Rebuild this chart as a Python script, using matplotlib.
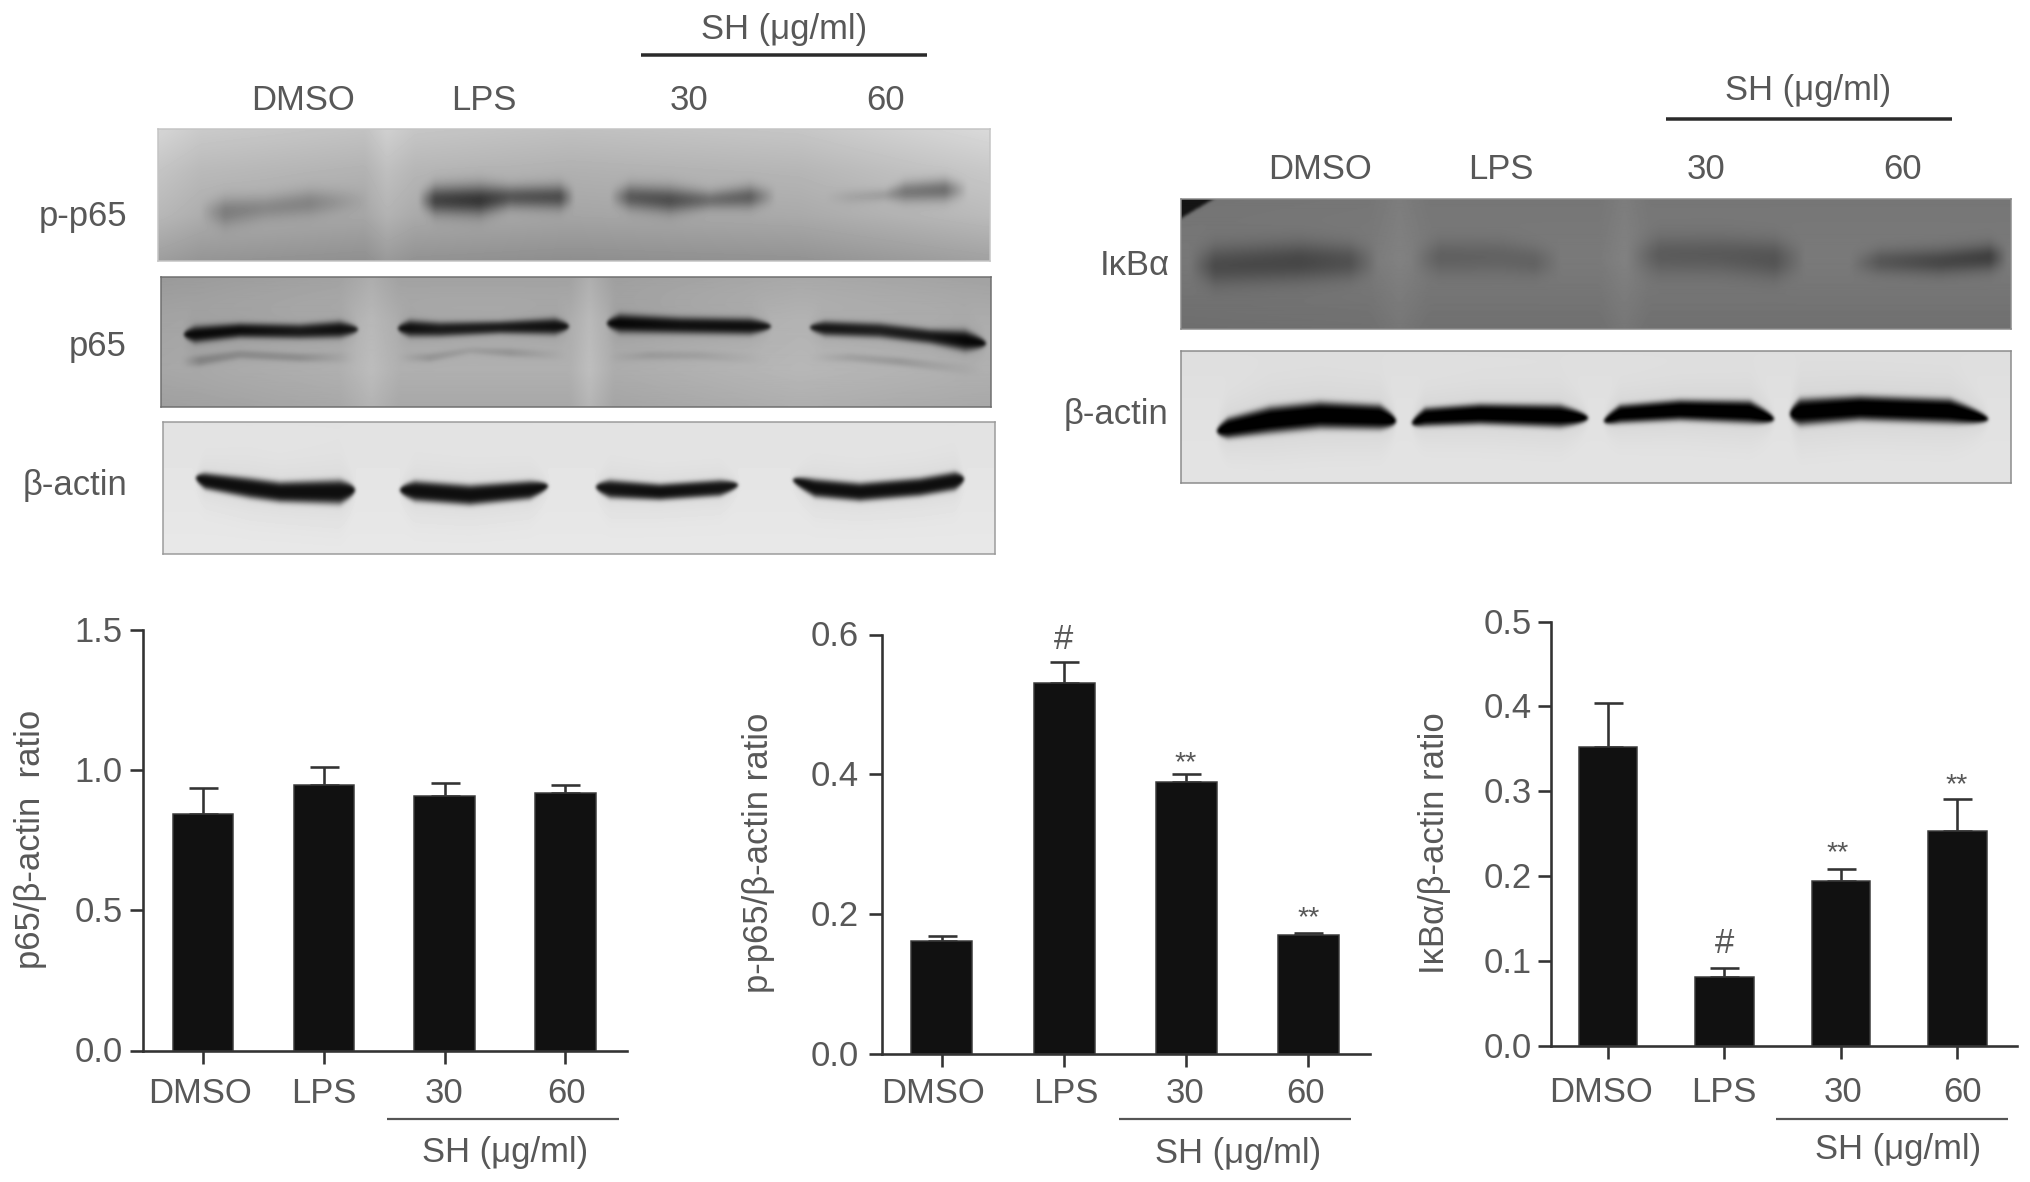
import numpy as np
import matplotlib
matplotlib.use("Agg")
import matplotlib.pyplot as plt

plt.rcParams['font.family'] = ['Liberation Sans', 'DejaVu Sans']
W, H = 2031, 1182
DPI = 100
PT = 72 / DPI
TXT = '#585858'
AX = '#333333'
BAR = '#111111'
FS = 34.7 * PT

# ---------- chart data ----------
categories = ['DMSO', 'LPS', '30', '60']
sh_label = 'SH (μg/ml)'

p65_values = [0.845, 0.946, 0.907, 0.918]
p65_errors = [0.091, 0.066, 0.048, 0.028]
p65_ticks = [0.0, 0.5, 1.0, 1.5]

pp65_values = [0.161, 0.531, 0.389, 0.170]
pp65_errors = [0.007, 0.030, 0.011, 0.003]
pp65_ticks = [0.0, 0.2, 0.4, 0.6]

ikb_values = [0.352, 0.081, 0.194, 0.253]
ikb_errors = [0.052, 0.010, 0.014, 0.038]
ikb_ticks = [0.0, 0.1, 0.2, 0.3, 0.4, 0.5]

# ---------- blot band descriptions: (x px, y px, half thickness, darkness) ----------
pp65_bands = [
    [(200,212,10,0),(225,212,14,48),(265,208,12,36),(310,203,13,40),(370,200,10,0)],
    [(418,200,9,0),(435,200,14,105),(480,200,15,118),(510,197,11,85),(560,197,12,92),(575,197,9,0)],
    [(610,197,8,0),(630,197,12,80),(670,200,13,92),(710,200,9,60),(750,197,11,78),(776,196,8,0)],
    [(825,197,6,0),(850,197,7,15),(885,195,6,25),(905,192,10,65),(945,190,11,78),(968,190,8,0)],
]
p65_bands = [
    [(184,335,6,0),(195,335,8,150),(240,331,7,150),(300,332,7,140),(340,330,8,150),(358,330,6,0)],
    [(398,329,6,0),(410,329,8,150),(440,330,7,140),(500,328,6,140),(555,327,8,150),(569,327,6,0)],
    [(607,324,6,0),(620,324,9,155),(680,326,8,150),(750,327,8,155),(771,327,6,0)],
    [(810,328,5,0),(825,329,7,150),(880,331,7,140),(930,337,7,145),(965,341,10,160),(986,344,7,0)],
    [(182,362,5,0),(200,361,5,35),(240,355,4,30),(300,358,4,30),(357,358,5,0)],
    [(398,358,4,0),(430,358,4,25),(470,351,3,15),(510,353,4,25),(568,356,4,0)],
    [(607,358,4,0),(650,356,4,18),(700,356,4,15),(770,360,5,0)],
    [(810,358,4,0),(850,358,4,18),(900,362,4,25),(985,372,5,0)],
]
actin1_bands = [
    [(196,478,5,0),(205,481,8,205),(250,488,10,205),(280,492,10,205),(340,492,12,205),(355,490,6,0)],
    [(400,490,6,0),(415,491,10,205),(470,495,10,205),(530,490,9,205),(548,486,5,0)],
    [(596,487,5,0),(610,489,9,200),(660,492,8,205),(720,488,8,200),(738,485,5,0)],
    [(793,480,4,0),(815,488,9,205),(860,492,9,205),(920,487,9,205),(955,481,9,205),(964,479,5,0)],
]
ikb_bands = [
    [(1190,265,14,0),(1215,266,19,44),(1300,262,19,50),(1350,262,17,40),(1378,262,14,0)],
    [(1412,260,12,0),(1440,258,17,25),(1500,258,17,23),(1535,262,15,23),(1562,262,12,0)],
    [(1628,258,14,0),(1660,256,19,30),(1720,256,19,32),(1775,260,19,38),(1806,260,14,0)],
    [(1850,264,10,0),(1880,262,12,34),(1940,262,13,50),(1990,258,13,58),(2008,258,10,0)],
]
actin2_bands = [
    [(1217,431,5,0),(1228,428,10,220),(1270,420,13,225),(1320,415,13,225),(1380,417,12,225),(1396,421,5,0)],
    [(1412,423,5,0),(1425,417,9,220),(1480,414,10,225),(1560,416,11,225),(1588,418,7,0)],
    [(1604,421,5,0),(1620,414,9,220),(1680,410,10,225),(1750,412,11,225),(1774,419,5,0)],
    [(1790,414,8,0),(1800,412,13,220),(1860,408,12,225),(1950,411,12,225),(1988,419,5,0)],
]

# background grey levels: (position px, level)
pp65_rows = [(129,198),(170,182),(215,170),(261,146)]
pp65_cols = [(158,1.08),(200,1.02),(365,0.98),(387,1.05),(415,1.0),(570,0.97),(800,1.0),(990,1.1)]
p65_rows = [(277,162),(320,172),(370,176),(407,168)]
p65_cols = [(161,0.95),(340,1.0),(372,1.07),(400,1.0),(570,1.0),(590,1.08),(615,0.98),(800,1.04),(991,1.0)]
actin1_rows = [(422,226),(554,232)]
actin1_cols = [(162,1.0),(995,1.0)]
ikb_rows = [(199,118),(260,122),(329,112)]
ikb_cols = [(1181,0.98),(1370,1.0),(1400,1.06),(1430,1.0),(1600,1.0),(1625,1.06),(1650,1.0),(2011,1.0)]
actin2_rows = [(351,222),(483,228)]
actin2_cols = [(1181,1.0),(2011,1.0)]


def fx(x): return x / W
def fy(y): return 1 - y / H


fig = plt.figure(figsize=(W / DPI, H / DPI), dpi=DPI, facecolor='white')


def T(x, y, s, ha='center', rot=0, size=FS, **kw):
    if rot:
        x += 2.5
    else:
        y += 2.5
    fig.text(fx(x), fy(y), s, ha=ha, va='center', rotation=rot, fontsize=size,
             color=kw.pop('color', TXT), rotation_mode='anchor' if rot == 0 else 'default', **kw)


def L(x0, x1, y, lw, color):
    fig.add_artist(plt.Line2D([fx(x0), fx(x1)], [fy(y), fy(y)], lw=lw * PT, color=color,
                              transform=fig.transFigure, solid_capstyle='butt'))


def soften(img, sigma):
    r = int(3 * sigma)
    k = np.exp(-0.5 * (np.arange(-r, r + 1) / sigma) ** 2)
    k /= k.sum()
    pad = np.pad(img, r, mode='edge')
    pad = np.apply_along_axis(lambda v: np.convolve(v, k, mode='same'), 0, pad)
    pad = np.apply_along_axis(lambda v: np.convolve(v, k, mode='same'), 1, pad)
    return pad[r:-r, r:-r]


def blot(box, rows, cols, bands, power, edge, corner=False):
    x0, x1, y0, y1 = box
    xs = np.arange(x0, x1) + 0.5
    ys = np.arange(y0, y1) + 0.5
    r = np.array(rows, float)
    c = np.array(cols, float)
    img = np.outer(np.interp(ys, r[:, 0], r[:, 1]), np.interp(xs, c[:, 0], c[:, 1]))
    for b in bands:
        a = np.array(b, float)
        yc = np.interp(xs, a[:, 0], a[:, 1])
        th = np.interp(xs, a[:, 0], a[:, 2])
        dk = np.interp(xs, a[:, 0], a[:, 3])
        if a[1, 3] > 100 and power > 2:
            # rounded band ends for the dense bands
            for i0, i1 in ((0, 1), (-1, -2)):
                lo, hi = sorted((a[i0, 0], a[i1, 0]))
                m = (xs >= lo) & (xs <= hi)
                t = np.abs(xs[m] - a[i0, 0]) / abs(a[i1, 0] - a[i0, 0])
                dk[m] = a[i1, 3]
                th[m] = a[i1, 2] * np.sqrt(np.maximum(t, 0.02))
        dk[(xs < a[0, 0]) | (xs > a[-1, 0])] = 0
        img -= dk * np.exp(-np.abs((ys[:, None] - yc) / th) ** power)
        if power > 2:
            img -= 0.05 * dk * np.exp(-((ys[:, None] - yc) / (th * 2.6 + 1)) ** 2)
    if corner:
        yy, xx = np.meshgrid(ys - y0, xs - x0, indexing='ij')
        img[(xx / 34 + yy / 20) < 1] = 20
    img = soften(img, 1.6)
    ax = fig.add_axes([fx(x0), fy(y1), (x1 - x0) / W, (y1 - y0) / H])
    ax.imshow(np.clip(img, 0, 255), cmap='gray', vmin=0, vmax=255, aspect='auto',
              interpolation='bilinear')
    ax.set_xticks([]); ax.set_yticks([])
    for s in ax.spines.values():
        s.set_color(edge); s.set_linewidth(1.5 * PT)


blot((158, 990, 129, 261), pp65_rows, pp65_cols, pp65_bands, 2, '#c4c4c4')
blot((161, 991, 277, 407), p65_rows, p65_cols, p65_bands, 3, '#6e6e6e')
blot((163, 995, 422, 554), actin1_rows, actin1_cols, actin1_bands, 4, '#9a9a9a')
blot((1181, 2011, 199, 329), ikb_rows, ikb_cols, ikb_bands, 2, '#8a8a8a', corner=True)
blot((1181, 2011, 351, 483), actin2_rows, actin2_cols, actin2_bands, 4, '#8a8a8a')

# blot annotations
for x, s in zip([303, 484, 689, 886], categories):
    T(x, 98, s)
T(784, 27, sh_label)
L(641, 927, 55, 3.5, '#2a2a2a')
T(127, 214, 'p-p65', ha='right')
T(127, 344, 'p65', ha='right')
T(127, 483, 'β-actin', ha='right')

for x, s in zip([1320, 1501, 1706, 1903], categories):
    T(x, 167, s)
T(1808, 88, sh_label)
L(1666, 1952, 118.5, 3.5, '#2a2a2a')
T(1170, 263, 'IκBα', ha='right')
T(1168, 412, 'β-actin', ha='right')


def chart(left, right, top, base, centers, barw, values, errors, ticks, ymax, fmt,
          tick_right, xlab, xlab_y, line, sh, ylabel, ylabel_pos):
    s = (centers[3] - centers[0]) / 3
    ax = fig.add_axes([fx(left), fy(base), (right - left) / W, (base - top) / H])
    ax.patch.set_alpha(0)
    pos = np.arange(len(values))
    ax.bar(pos, values, width=barw / s, color=BAR, edgecolor='#3a3a3a', linewidth=1.5 * PT, zorder=3)
    ax.errorbar(pos, values, yerr=[np.zeros(len(errors)), errors], fmt='none', ecolor=AX,
                elinewidth=2.6 * PT, capsize=14.5 * PT, capthick=2.6 * PT, zorder=2)
    ax.set_xlim((left - centers[0]) / s, (right - centers[0]) / s)
    ax.set_ylim(0, ymax)
    ax.set_yticks(ticks)
    ax.set_xticks(pos)
    ax.set_xticklabels([])
    ax.set_yticklabels([])
    ax.tick_params(axis='both', length=13 * PT, width=2.6 * PT, color=AX)
    ax.spines[['top', 'right']].set_visible(False)
    for sp in ('left', 'bottom'):
        ax.spines[sp].set_linewidth(2.6 * PT)
        ax.spines[sp].set_color(AX)
    scale = (base - top) / ymax
    for t in ticks:
        T(tick_right, base - t * scale, fmt % t, ha='right')
    for x, c in zip(xlab, categories):
        T(x, xlab_y, c)
    L(line[0], line[1], 1118.5, 2.2, '#555555')
    T(sh[0], sh[1], sh_label)
    T(ylabel_pos[0], ylabel_pos[1], ylabel, rot=90)
    return ax


chart(143, 627, 630, 1050.5, [203, 324, 444.5, 565.5], 60.5, p65_values, p65_errors,
      p65_ticks, 1.5, '%.1f', 122.5, [200, 324, 444, 567], 1091, (387, 619), (505, 1150),
      'p65/β-actin  ratio', (28, 839))
chart(882, 1370, 634.5, 1053.5, [942, 1064, 1186, 1308], 61, pp65_values, pp65_errors,
      pp65_ticks, 0.6, '%.1f', 858.5, [933, 1066, 1185, 1306], 1091, (1119, 1351), (1238, 1151),
      'p-p65/β-actin ratio', (756, 853))
chart(1551.5, 2017, 621.5, 1045.5, [1608, 1725, 1841.5, 1957.5], 58.5, ikb_values, ikb_errors,
      ikb_ticks, 0.5, '%.1f', 1531.5, [1601, 1724, 1843, 1963], 1090, (1776, 2008), (1898, 1147),
      'IκBα/β-actin ratio', (1432, 843))

# significance marks
T(1064, 637, '#')
T(1186, 761, '**', size=FS * 0.82)
T(1309, 916, '**', size=FS * 0.82)
T(1725, 941, '#')
T(1838, 851, '**', size=FS * 0.82)
T(1957, 783, '**', size=FS * 0.82)

fig.savefig('out.png', dpi=DPI, facecolor='white')
